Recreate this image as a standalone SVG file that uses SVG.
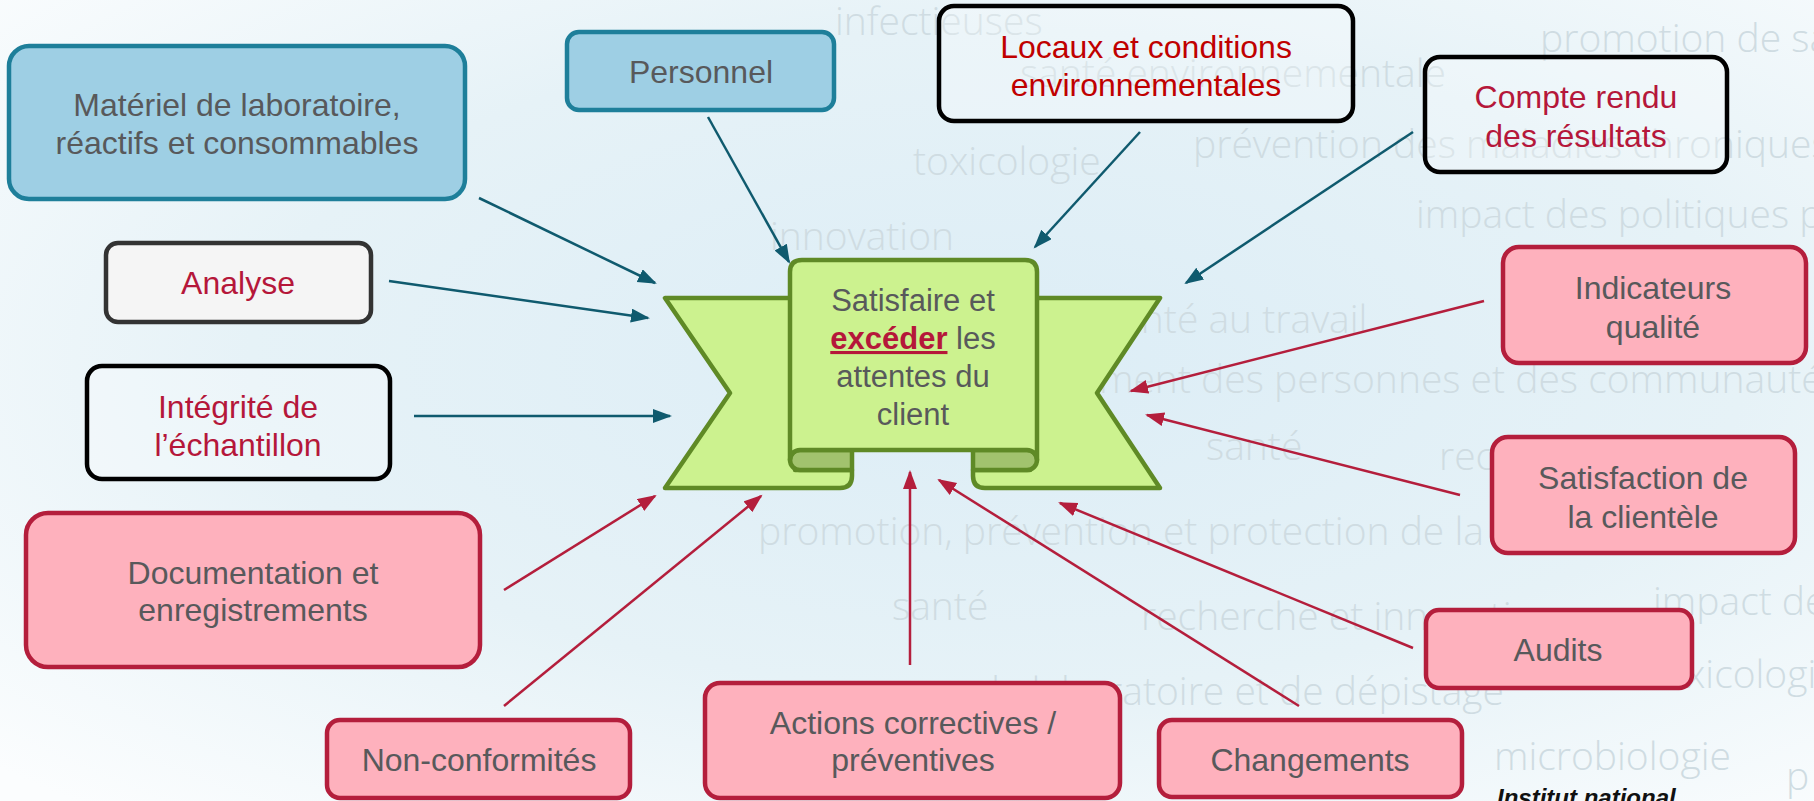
<svg xmlns="http://www.w3.org/2000/svg" width="1814" height="801" viewBox="0 0 1814 801">
<defs>
<radialGradient id="bg" cx="0.55" cy="0.45" r="0.75">
<stop offset="0" stop-color="#dcedf6"/>
<stop offset="0.55" stop-color="#e6f2f7"/>
<stop offset="1" stop-color="#fbfdfe"/>
</radialGradient>
<marker id="ahT" markerUnits="userSpaceOnUse" markerWidth="20" markerHeight="16" refX="17" refY="7" orient="auto">
<path d="M0,0 L19,7 L0,14 Z" fill="#0f5a6e"/>
</marker>
<marker id="ahR" markerUnits="userSpaceOnUse" markerWidth="20" markerHeight="16" refX="17" refY="7" orient="auto">
<path d="M0,0 L19,7 L0,14 Z" fill="#b41e3c"/>
</marker>
</defs>
<style>
.wm{font-family:"Open Sans","Liberation Sans",sans-serif;font-weight:300;fill:#cfdce2;font-size:39px}
.t{font-family:"Liberation Sans",Arial,sans-serif;font-size:32px;text-anchor:middle;fill:#58595b}
.bt{font-size:31px}
.red{fill:#b5173a}
.red2{fill:#c00000}
.blue{fill:#9ecfe4;stroke:#1e7f9a;stroke-width:4.5}
.pink{fill:#feb1bd;stroke:#b41e3c;stroke-width:4.5}
.blk{fill:#ffffff;fill-opacity:0.25;stroke:#000;stroke-width:4.5}
.ct{stroke:#0f5a6e;stroke-width:2.5;fill:none;marker-end:url(#ahT)}
.cr{stroke:#b41e3c;stroke-width:2.5;fill:none;marker-end:url(#ahR)}
.rib{fill:#ccf28f;stroke:#5f8a26;stroke-width:4.5;stroke-linejoin:round}
.curl{fill:#a2c36e;stroke:#5f8a26;stroke-width:4.5;stroke-linejoin:round}
</style>
<rect width="1814" height="801" fill="url(#bg)"/>
<g id="watermark">
<text class="wm" x="835" y="35">infectieuses</text>
<text class="wm" x="1540" y="52">promotion de santé</text>
<text class="wm" x="1020" y="87">santé environnementale</text>
<text class="wm" x="1193" y="158">prévention des maladies chroniques</text>
<text class="wm" x="913" y="175">toxicologie</text>
<text class="wm" x="1416" y="228">impact des politiques publiques</text>
<text class="wm" x="770" y="250">innovation</text>
<text class="wm" x="1102" y="333">santé au travail</text>
<text class="wm" x="1099" y="393">ment des personnes et des communautés</text>
<text class="wm" x="1206" y="460">santé</text>
<text class="wm" x="1439" y="470" font-size="46">recherche</text>
<text class="wm" x="758" y="545">promotion, prévention et protection de la santé</text>
<text class="wm" x="892" y="620" font-size="46">santé</text>
<text class="wm" x="1141" y="630">recherche et innovation</text>
<text class="wm" x="1653" y="615">impact de</text>
<text class="wm" x="1650" y="688">toxicologie</text>
<text class="wm" x="1504" y="705" text-anchor="end">de laboratoire et de dépistage</text>
<text class="wm" x="1494" y="770">microbiologie</text>
<text class="wm" x="1786" y="790">p</text>
</g>
<g id="connectors">
<line class="ct" x1="479" y1="198" x2="655" y2="283"/>
<line class="ct" x1="708" y1="117" x2="789" y2="262"/>
<line class="ct" x1="389" y1="281" x2="648" y2="318"/>
<line class="ct" x1="414" y1="416" x2="670" y2="416"/>
<line class="ct" x1="1140" y1="132" x2="1035" y2="247"/>
<line class="ct" x1="1413" y1="132" x2="1186" y2="283"/>
<line class="cr" x1="1484" y1="301" x2="1131" y2="391"/>
<line class="cr" x1="1460" y1="495" x2="1147" y2="415"/>
<line class="cr" x1="1413" y1="648" x2="1060" y2="503"/>
<line class="cr" x1="1299" y1="706" x2="939" y2="480"/>
<line class="cr" x1="910" y1="665" x2="910" y2="472"/>
<line class="cr" x1="504" y1="590" x2="655" y2="496"/>
<line class="cr" x1="504" y1="706" x2="761" y2="496"/>
</g>
<g id="center">
<path class="rib" d="M665,298 H795 V470 H852 V476 Q852,488 840,488 H665 L730,393 Z"/>
<path class="rib" d="M1160,298 H1030 V470 H973 V476 Q973,488 985,488 H1160 L1097,393 Z"/>
<path class="curl" d="M852,450 H800 A10,10 0 0 0 800,470 H852 Z"/>
<path class="curl" d="M973,450 H1027 A10,10 0 0 1 1027,470 H973 Z"/>
<path class="rib" d="M790,460 V272 Q790,260 802,260 H1025 Q1037,260 1037,272 V460 A10,10 0 0 0 1027,450 H800 A10,10 0 0 0 790,460 Z"/>
<text class="t bt" x="913" y="311">Satisfaire et</text>
<text class="t bt" x="913" y="349"><tspan class="red" font-weight="bold" text-decoration="underline">excéder</tspan> les</text>
<text class="t bt" x="913" y="387">attentes du</text>
<text class="t bt" x="913" y="425">client</text>
</g>
<g id="materiel">
<rect class="blue" x="9" y="46" width="456" height="153" rx="20"/>
<text class="t" x="237" y="116">Matériel de laboratoire,</text>
<text class="t" x="237" y="154">réactifs et consommables</text>
</g>
<g id="personnel">
<rect class="blue" x="567" y="32" width="267" height="78" rx="12"/>
<text class="t" x="701" y="83">Personnel</text>
</g>
<g id="locaux">
<rect class="blk" x="939" y="6" width="414" height="115" rx="15"/>
<text class="t red2" x="1146" y="58">Locaux et conditions</text>
<text class="t red2" x="1146" y="96">environnementales</text>
</g>
<g id="compte-rendu">
<rect class="blk" x="1425" y="57" width="302" height="115" rx="15"/>
<text class="t red" x="1576" y="108">Compte rendu</text>
<text class="t red" x="1576" y="147">des résultats</text>
</g>
<g id="analyse">
<rect x="106" y="243" width="265" height="79" rx="12" fill="#f5f5f5" stroke="#333" stroke-width="4.5"/>
<text class="t red" x="238" y="294">Analyse</text>
</g>
<g id="integrite">
<rect class="blk" x="87" y="366" width="303" height="113" rx="15"/>
<text class="t red" x="238" y="418">Intégrité de</text>
<text class="t red" x="238" y="456">l’échantillon</text>
</g>
<g id="documentation">
<rect class="pink" x="26" y="513" width="454" height="154" rx="22"/>
<text class="t" x="253" y="584">Documentation et</text>
<text class="t" x="253" y="621">enregistrements</text>
</g>
<g id="non-conformites">
<rect class="pink" x="327" y="720" width="303" height="78" rx="13"/>
<text class="t" x="479" y="771">Non-conformités</text>
</g>
<g id="actions">
<rect class="pink" x="705" y="683" width="415" height="115" rx="15"/>
<text class="t" x="913" y="734">Actions correctives /</text>
<text class="t" x="913" y="771">préventives</text>
</g>
<g id="changements">
<rect class="pink" x="1159" y="720" width="303" height="77" rx="13"/>
<text class="t" x="1310" y="771">Changements</text>
</g>
<g id="audits">
<rect class="pink" x="1426" y="610" width="266" height="78" rx="13"/>
<text class="t" x="1558" y="661">Audits</text>
</g>
<g id="satisfaction">
<rect class="pink" x="1492" y="437" width="303" height="116" rx="16"/>
<text class="t" x="1643" y="489">Satisfaction de</text>
<text class="t" x="1643" y="528">la clientèle</text>
</g>
<g id="indicateurs">
<rect class="pink" x="1503" y="247" width="303" height="116" rx="16"/>
<text class="t" x="1653" y="299">Indicateurs</text>
<text class="t" x="1653" y="338">qualité</text>
</g>
<g id="logo">
<text x="1497" y="806" font-family="'Liberation Sans',Arial,sans-serif" font-weight="bold" font-style="italic" font-size="24" fill="#111">Institut national</text>
</g>
</svg>
